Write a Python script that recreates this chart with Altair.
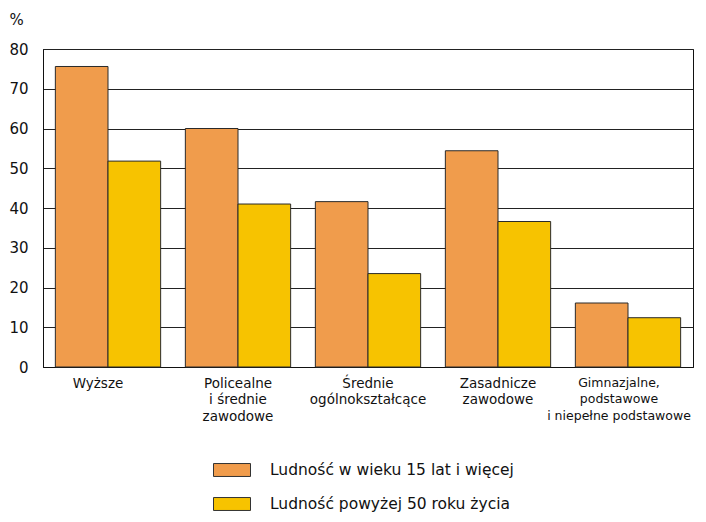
import altair as alt
import pandas as pd

categories = ["Wyższe", "Policealne|i średnie|zawodowe", "Średnie|ogólnokształcące",
              "Zasadnicze|zawodowe", "Gimnazjalne,|podstawowe|i niepełne podstawowe"]
series = ["Ludność w wieku 15 lat i więcej", "Ludność powyżej 50 roku życia"]
values_15plus = [75.6, 60.0, 41.6, 54.4, 16.1]
values_50plus = [51.8, 41.0, 23.5, 36.6, 12.4]
colors = ["#F09C4C", "#F7C300"]

rows = []
for c, a, b in zip(categories, values_15plus, values_50plus):
    rows.append({"kat": c, "seria": series[0], "v": a})
    rows.append({"kat": c, "seria": series[1], "v": b})
df = pd.DataFrame(rows)

FONT = "DejaVu Sans"
first_test = "datum.value == 'Wyższe'"
last_test = "indexof(datum.value, 'Gimnazjalne') == 0"

chart = alt.Chart(df).mark_bar(stroke="#2a2a2a", strokeWidth=1).encode(
    x=alt.X("kat:N", sort=categories,
            scale=alt.Scale(paddingInner=0.19, paddingOuter=0.095),
            axis=alt.Axis(title=None, labelAngle=0, ticks=False, labelPadding=9,
                          labelExpr="split(datum.label, '|')", labelFont=FONT,
                          labelFontSize={"condition": {"test": last_test, "value": 12.5},
                                         "value": 13.5},
                          labelOffset={"condition": [{"test": first_test, "value": -10},
                                                     {"test": last_test, "value": -9}],
                                       "value": 0},
                          labelLineHeight=16.5, labelColor="#111",
                          labelBaseline="top", labelLimit=0,
                          domainColor="#111", domainWidth=1)),
    xOffset=alt.XOffset("seria:N", sort=series,
                        scale=alt.Scale(paddingInner=0, paddingOuter=0)),
    y=alt.Y("v:Q", scale=alt.Scale(domain=[0, 80], nice=False),
            axis=alt.Axis(title="%", titleAngle=0, titleX=-34, titleY=-30,
                          titleAlign="left", titleBaseline="middle",
                          titleFont=FONT, titleFontSize=15, titleFontWeight="normal",
                          titleColor="#111",
                          values=[0, 10, 20, 30, 40, 50, 60, 70, 80],
                          ticks=False, labelPadding=15, labelFont=FONT,
                          labelFontSize=15, labelColor="#111",
                          grid=True, gridColor="#222", gridWidth=1, gridOpacity=1,
                          domainColor="#111", domainWidth=1)),
    color=alt.Color("seria:N", sort=series,
                    scale=alt.Scale(domain=series, range=colors),
                    legend=alt.Legend(title=None, orient="none", legendX=170, legendY=402,
                                      direction="vertical",
                                      symbolType="M-1,-0.35H1V0.35H-1Z",
                                      symbolSize=1369, symbolStrokeColor="#333",
                                      symbolStrokeWidth=1, symbolOpacity=1,
                                      labelFont=FONT, labelFontSize=15.5,
                                      labelColor="#111", labelOffset=19,
                                      labelLimit=0,
                                      rowPadding=6, padding=0,
                                      symbolLimit=0)),
).properties(
    width=650, height=318,
    autosize=alt.AutoSizeParams(type="none"),
    padding={"left": 35, "top": 41, "right": 5, "bottom": 146},
).configure_view(stroke="#111", strokeWidth=1)

chart.save("out.html", embed_options={"renderer": "svg", "actions": False})
